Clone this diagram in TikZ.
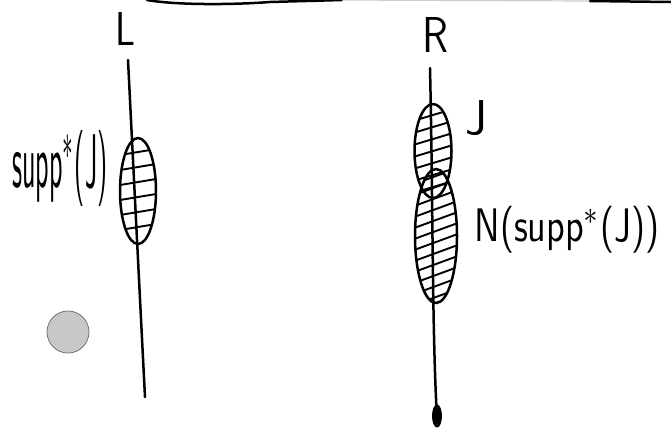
\documentclass[tikz,border=0pt]{standalone}
\usepackage{graphicx}
\usetikzlibrary{shapes.geometric}
\begin{document}
\begin{tikzpicture}[x=1pt,y=-1pt,
  ink/.style={line width=2.5pt, line cap=round, line join=round},
  hatchline/.style={line width=1.9pt, line cap=round},
  hand/.style={inner sep=0pt, font=\sffamily},
  blob/.style={ellipse, draw, ink, inner sep=0pt}]
\useasboundingbox (0,0) rectangle (671,440);

% torn top edge
\coordinate (t1) at (147,0);
\coordinate (t2) at (270,2);
\coordinate (t3) at (342,0);
\coordinate (t4) at (590,1);
\coordinate (t5) at (671,2);
\draw[ink] (t1) .. controls (175,5) and (230,5) .. (t2) -- (t3);
\draw[line width=1.2pt, black!20] (t3) -- (t4);
\draw[ink] (t4) -- (t5);

% hole punch
\node[circle, fill=black!22, draw=black!55, line width=0.8pt, minimum size=42pt, inner sep=0pt] (hole) at (68,332) {};

% left line
\node[hand] (lblL) at (125,29) {\resizebox*{20pt}{33pt}{L}};
\coordinate (Ltop) at (128,60);
\coordinate (Lbot) at (145,397);
\draw[ink] (Ltop) .. controls (134,180) and (140,300) .. (Lbot);
\node[blob, minimum width=36pt, minimum height=106pt] (suppJ) at (138,191) {};
\begin{scope}[shift={(suppJ.center)}]
  \clip (0,0) ellipse [x radius=18pt, y radius=53pt];
  \foreach \yy in {-39,-24,-9,6,21,36}
    \draw[hatchline] (-30,\yy+5) -- (30,\yy-5);
\end{scope}
\node[hand] (lblS) at (60,168) {\resizebox*{95pt}{76pt}{supp$^{*}$(J)}};

% right line
\node[hand] (lblR) at (435,35) {\resizebox*{26pt}{35pt}{R}};
\coordinate (Rtop) at (430,68);
\coordinate (Rbot) at (437,418);
\draw[ink] (Rtop) .. controls (433,200) and (432,330) .. (Rbot);
\node[ellipse, fill, minimum width=10pt, minimum height=23pt, inner sep=0pt] (Rend) at (437,416) {};
\node[blob, minimum width=37pt, minimum height=94pt] (J) at (433,151) {};
\node[blob, minimum width=42pt, minimum height=134pt] (N) at (436,236) {};
\begin{scope}[shift={(J.center)}]
  \clip (0,0) ellipse [x radius=18.5pt, y radius=47pt];
  \foreach \yy in {-36,-24,-12,0,12,24,36}
    \draw[hatchline] (-30,\yy+9) -- (30,\yy-9);
\end{scope}
\begin{scope}[shift={(N.center)}]
  \clip (0,0) ellipse [x radius=21pt, y radius=67pt];
  \foreach \yy in {-60,-49,-38,-27,-16,-5,6,17,28,39,50,61}
    \draw[hatchline] (-30,\yy+11) -- (30,\yy-11);
\end{scope}
\node[hand] (lblJ) at (476,118) {\resizebox*{22pt}{35pt}{J}};
\node[hand] (lblN) at (567,230) {\resizebox*{185pt}{47pt}{N(supp$^{*}$(J))}};
\end{tikzpicture}
\end{document}
